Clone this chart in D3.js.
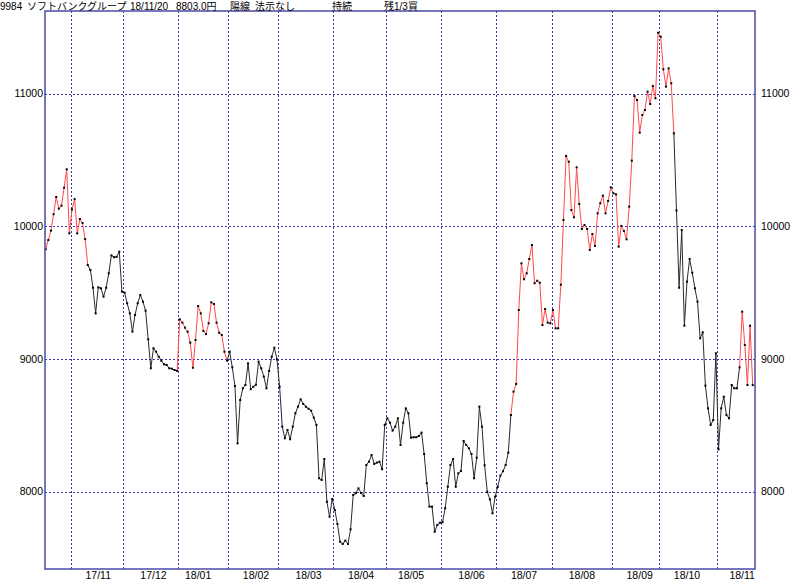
<!DOCTYPE html>
<html><head><meta charset="utf-8">
<script src="https://cdn.jsdelivr.net/npm/d3@7"></script>
<style>body{margin:0;background:#fff} svg{display:block}</style>
</head><body>
<script>
// daily closes, 2017/10/18 .. 2018/11/20
const closes = [
 9827, 9897, 9967,10091,10221,10133,10156,10291,10430, 9947,
10127,10205, 9947,10055,10025, 9904, 9708, 9671, 9537, 9344,
 9540, 9533, 9470, 9537, 9646, 9781, 9767, 9770, 9809, 9508,
 9500, 9420, 9344, 9206, 9332, 9420, 9482, 9432, 9364, 9148,
 8930, 9081, 9055, 9017, 8987, 8960, 8955, 8930, 8927, 8917,
 8910, 9299, 9274, 9236, 9206, 9123, 8934, 9143, 9399, 9344,
 9211, 9188, 9269, 9427, 9415, 9274, 9198, 9181, 9055, 8987,
 9055, 8937, 8796, 8364, 8691, 8779, 8804, 8967, 8772, 8791,
 8806, 8980, 8930, 8867, 8779, 8910, 9017, 9085, 8997, 8791,
 8490, 8402, 8465, 8395, 8490, 8591, 8641, 8696, 8661, 8640,
 8625, 8610, 8558, 8503, 8101, 8088, 8246, 7924, 7811, 7945,
 7862, 7756, 7623, 7606, 7631, 7606, 7716, 7975, 7988, 8025,
 7990, 7967, 8201, 8226, 8276, 8209, 8219, 8226, 8169, 8503,
 8553, 8520, 8460, 8490, 8553, 8352, 8520, 8628, 8591, 8407,
 8410, 8410, 8420, 8445, 8284, 8063, 7887, 7887, 7698, 7749,
 7766, 7770, 7875, 8037, 8201, 8246, 8037, 8138, 8156, 8382,
 8352, 8327, 8284, 8101, 8256, 8641, 8490, 8199, 8000, 7942,
 7837, 7962, 8037, 8121, 8154, 8201, 8294, 8578, 8754, 8812,
 9369, 9721, 9601, 9646, 9754, 9859, 9571, 9590, 9575, 9256,
 9377, 9274, 9269, 9369, 9231, 9231, 9560,10048,10530,10487,
10123,10068,10445,10168, 9980,10010, 9980, 9822, 9942, 9852,
10098,10174,10231,10098,10191,10294,10249,10241, 9847,10003,
 9965, 9902,10148,10495,10982,10952,10706,10839,10877,11015,
10922,11058,10965,11459,11429,11184,11053,11191,11078,10701,
10120, 9537, 9972, 9251, 9583, 9754, 9650, 9533, 9432, 9156,
 9201, 8799, 8628, 8503, 8540, 9043, 8319, 8628, 8716, 8578,
 8553, 8804, 8779, 8779, 8937, 9357, 9106, 8804, 9251, 8803
];
const preDays = 10; // trading days shown before 17/11
const monthLabels = ["17/11","17/12","18/01","18/02","18/03","18/04","18/05","18/06","18/07","18/08","18/09","18/10","18/11"];
const monthDays   = [20,21,19,19,21,20,21,21,21,23,18,22,14];
const labelDay    = [10,11,7,10,11,10,9,11,10,11,10,10,9]; // trading day of the 16th
const yTicks = [8000, 9000, 10000, 11000];
const upStart = [0, 50, 177, 264];
const upEnd   = [16, 69, 239, 269];
const titleWords = ["9984","ソフトバンクグループ","18/11/20","8803.0円","陽線","法示なし","持続","残1/3買"];
const titleX     = [0, 27, 130, 176, 230, 255, 332, 384];

const W = 800, H = 581;
const L = 45, R = 755, T = 11, B = 569;
const font = "'Liberation Sans', 'Noto Sans CJK JP', sans-serif";
const gridCol = "#3434a4", frameCol = "#4a4aa8";

const svg = d3.select("body").append("svg").attr("width", W).attr("height", H);
const x = d3.scaleLinear().domain([0, closes.length - 1]).range([45.7, 752.7]);
const y = d3.scaleLinear().domain([7417, 11623]).range([B, T]);

// month starts
const starts = [];
let acc = preDays;
monthDays.forEach(d => { starts.push(acc); acc += d; });

// grid
svg.append("g").selectAll("line").data(yTicks).join("line")
  .attr("x1", L).attr("x2", R)
  .attr("y1", d => Math.round(y(d)) + 0.5).attr("y2", d => Math.round(y(d)) + 0.5)
  .attr("stroke", gridCol).attr("stroke-width", 1).attr("stroke-dasharray", "2,2");
svg.append("g").selectAll("line").data(starts).join("line")
  .attr("x1", d => Math.round(x(d - 0.5)) + 0.5).attr("x2", d => Math.round(x(d - 0.5)) + 0.5)
  .attr("y1", T).attr("y2", B)
  .attr("stroke", gridCol).attr("stroke-width", 1).attr("stroke-dasharray", "2,2");

// y labels
svg.append("g").selectAll("text").data(yTicks).join("text")
  .attr("x", 43).attr("y", d => y(d)).attr("dy", "0.35em")
  .attr("text-anchor", "end").attr("font-family", font).attr("font-size", 10.5).attr("fill", "#000")
  .text(d => d);
svg.append("g").selectAll("text").data(yTicks).join("text")
  .attr("x", 761).attr("y", d => y(d)).attr("dy", "0.35em")
  .attr("text-anchor", "start").attr("font-family", font).attr("font-size", 10.5).attr("fill", "#000")
  .text(d => d);

// x labels
svg.append("g").selectAll("text").data(monthLabels).join("text")
  .attr("x", (d, i) => x(starts[i] + labelDay[i]))
  .attr("y", 578.5)
  .attr("text-anchor", "middle").attr("font-family", font).attr("font-size", 10.5).attr("fill", "#000")
  .text(d => d);

// line segments coloured by trend state
const isUp = (i) => upStart.some((s, k) => s <= i && i + 1 <= upEnd[k]);
const segs = d3.range(closes.length - 1).map(i => ({i, up: isUp(i)}));
svg.append("g").selectAll("line").data(segs).join("line")
  .attr("x1", d => x(d.i)).attr("y1", d => y(closes[d.i]))
  .attr("x2", d => x(d.i + 1)).attr("y2", d => y(closes[d.i + 1]))
  .attr("stroke", d => d.up ? "#ff4a4a" : "#2a2a2a").attr("stroke-width", 1);

// dots
svg.append("g").selectAll("rect").data(closes).join("rect")
  .attr("x", (d, i) => x(i) - 1).attr("y", d => y(d) - 1)
  .attr("width", 2).attr("height", 2).attr("fill", "#000");

// frame
svg.append("rect").attr("x", L).attr("y", T).attr("width", R - L).attr("height", B - T)
  .attr("fill", "none").attr("stroke", frameCol).attr("stroke-width", 1.5);

// title
svg.append("g").selectAll("text").data(titleWords).join("text")
  .attr("x", (d, i) => titleX[i]).attr("y", 10)
  .attr("font-family", font).attr("font-size", 10).attr("fill", "#000")
  .text(d => d);
</script>
</body></html>
